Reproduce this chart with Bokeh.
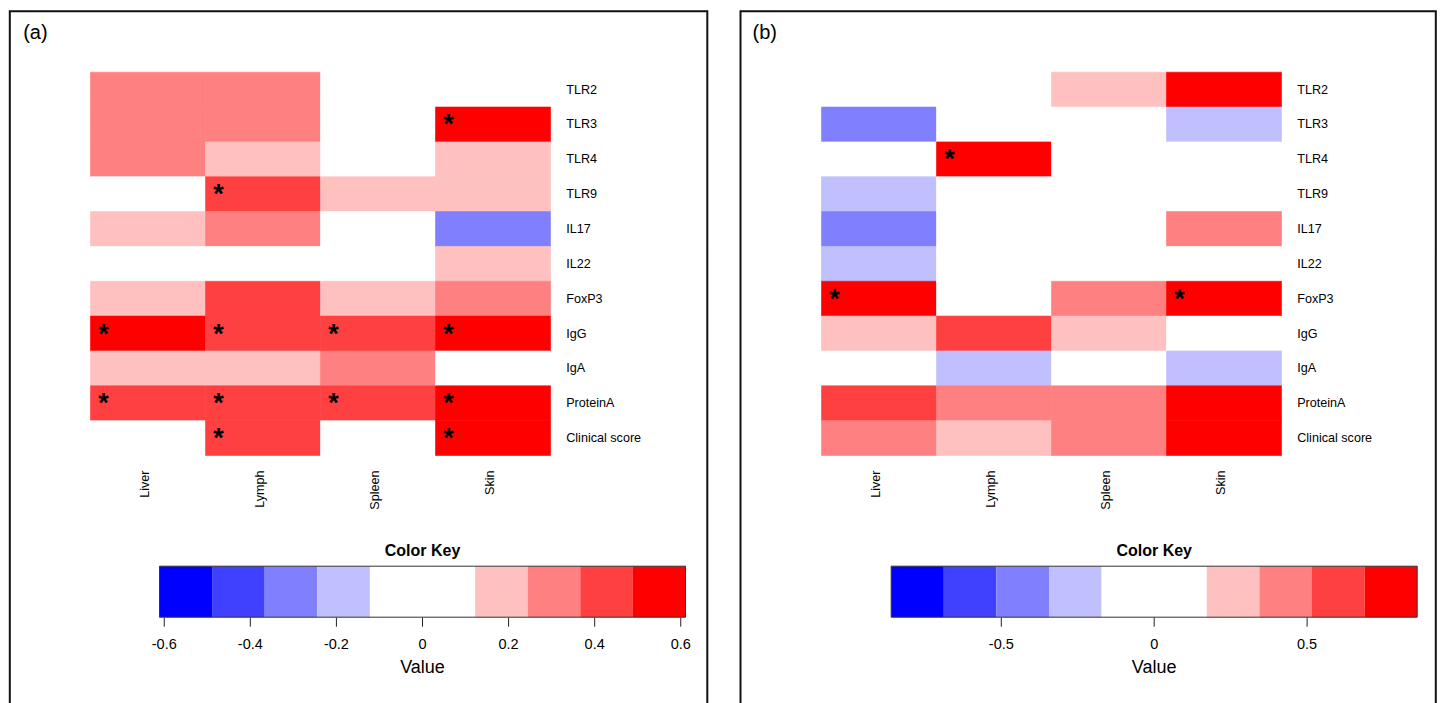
import numpy as np
from bokeh.plotting import figure
from bokeh.models import Range1d, LinearColorMapper, ColumnDataSource
from bokeh.transform import transform
from bokeh.layouts import row
from bokeh.embed import file_html
from bokeh.resources import INLINE
from bokeh.core.properties import value

# ---------------- data ----------------
genes = ["TLR2", "TLR3", "TLR4", "TLR9", "IL17", "IL22", "FoxP3",
         "IgG", "IgA", "ProteinA", "Clinical score"]
tissues = ["Liver", "Lymph", "Spleen", "Skin"]

# panel (a) values per tissue (rows follow `genes`)
a_liver  = [0.29, 0.27, 0.32, 0.06, 0.17, -0.05, 0.19, 0.611, 0.20, 0.42, 0.11]
a_lymph  = [0.31, 0.30, 0.18, 0.43, 0.28, 0.09, 0.41, 0.45, 0.23, 0.46, 0.44]
a_spleen = [0.05, 0.02, -0.03, 0.16, 0.04, 0.07, 0.15, 0.44, 0.33, 0.43, 0.08]
a_skin   = [0.08, 0.56, 0.20, 0.19, -0.31, 0.21, 0.30, 0.58, 0.10, 0.55, 0.59]
# significance marks (1 = star)
a_liver_sig  = [0, 0, 0, 0, 0, 0, 0, 1, 0, 1, 0]
a_lymph_sig  = [0, 0, 0, 1, 0, 0, 0, 1, 0, 1, 1]
a_spleen_sig = [0, 0, 0, 0, 0, 0, 0, 1, 0, 1, 0]
a_skin_sig   = [0, 1, 0, 0, 0, 0, 0, 1, 0, 1, 1]
a_ticks = [-0.6, -0.4, -0.2, 0, 0.2, 0.4, 0.6]
a_tick_labels = ["-0.6", "-0.4", "-0.2", "0", "0.2", "0.4", "0.6"]

# panel (b)
b_liver  = [0.05, -0.41, 0.12, -0.27, -0.44, -0.22, 0.86, 0.25, -0.03, 0.62, 0.45]
b_lymph  = [-0.08, 0.10, 0.82, 0.07, 0.02, -0.05, 0.11, 0.60, -0.26, 0.46, 0.31]
b_spleen = [0.26, -0.06, 0.03, -0.11, 0.09, 0.13, 0.43, 0.29, 0.14, 0.38, 0.42]
b_skin   = [0.79, -0.24, -0.09, 0.04, 0.40, 0.06, 0.76, 0.08, -0.21, 0.74, 0.80]
b_liver_sig  = [0, 0, 0, 0, 0, 0, 1, 0, 0, 0, 0]
b_lymph_sig  = [0, 0, 1, 0, 0, 0, 0, 0, 0, 0, 0]
b_spleen_sig = [0, 0, 0, 0, 0, 0, 0, 0, 0, 0, 0]
b_skin_sig   = [0, 0, 0, 0, 0, 0, 1, 0, 0, 0, 0]
b_ticks = [-0.5, 0, 0.5]
b_tick_labels = ["-0.5", "0", "0.5"]

palette = ["#0000FF", "#4040FF", "#8080FF", "#C0C0FF", "#FFFFFF",
           "#FFFFFF", "#FFC0C0", "#FF8080", "#FF4040", "#FF0000"]

FONT = value("Liberation Sans")
H = 703


def panel(tag, cols, sigs, ticks, tick_labels, W, border, title_x, heat_x, key_x):
    p = figure(width=W, height=H, x_range=Range1d(0, W), y_range=Range1d(H, 0),
               output_backend="svg", toolbar_location=None, min_border=0,
               x_axis_location=None, y_axis_location=None)
    p.grid.visible = False
    p.outline_line_color = None
    p.background_fill_color = "white"
    p.border_fill_color = "white"

    ncol, nrow = len(tissues), len(genes)
    hx0, hx1 = heat_x
    hy0, hy1 = 71.7, 455.0
    cw = (hx1 - hx0) / ncol
    rh = (hy1 - hy0) / nrow
    p.extra_x_ranges["hx"] = Range1d(start=-hx0 / cw, end=(W - hx0) / cw)
    p.extra_y_ranges["hy"] = Range1d(start=(H - hy0) / rh, end=-hy0 / rh)

    vals = np.array(cols)          # ncol x nrow
    vmax = float(np.abs(vals).max())
    kx0, kx1 = key_x
    ks = (kx1 - kx0) / (2 * vmax)
    kc = (kx0 + kx1) / 2
    p.extra_x_ranges["kx"] = Range1d(start=-kc / ks, end=(W - kc) / ks)

    mapper = LinearColorMapper(palette=palette, low=-vmax, high=vmax)

    xs, ys, vs = [], [], []
    sx, sy = [], []
    for i in range(ncol):
        for j in range(nrow):
            xs.append(i + 0.5)
            ys.append(j + 0.5)
            vs.append(cols[i][j])
            if sigs[i][j]:
                sx.append(i)
                sy.append(j + 0.5)
    src = ColumnDataSource(dict(x=xs, y=ys, v=vs))
    p.rect("x", "y", width=1, height=1, source=src, x_range_name="hx", y_range_name="hy",
           fill_color=transform("v", mapper), line_color=transform("v", mapper),
           line_width=0.6)

    # significance stars
    p.text(x=sx, y=sy, text=["*"] * len(sx), x_range_name="hx", y_range_name="hy",
           x_offset=13, y_offset=0, text_align="center", text_baseline="middle",
           text_font=FONT, text_font_size="27px", text_font_style="bold", text_color="black")

    # row labels
    p.text(x=[ncol] * nrow, y=[j + 0.5 for j in range(nrow)], text=genes,
           x_range_name="hx", y_range_name="hy", x_offset=15.7,
           text_align="left", text_baseline="middle", text_font=FONT,
           text_font_size="12.6px", text_color="black")
    # column labels (rotated)
    p.text(x=[i + 0.5 for i in range(ncol)], y=[nrow] * ncol, text=tissues,
           x_range_name="hx", y_range_name="hy", x_offset=-3, y_offset=15,
           angle=np.pi / 2, text_align="right", text_baseline="middle",
           text_font=FONT, text_font_size="12.6px", text_color="black")

    # colour key
    edges = np.linspace(-vmax, vmax, len(palette) + 1)
    kt, kb = 565.7, 616.7
    p.quad(left=edges[:-1], right=edges[1:], top=kt, bottom=kb, fill_color=palette,
           line_color=None, x_range_name="kx")
    p.quad(left=[-vmax], right=[vmax], top=kt, bottom=kb, fill_color=None,
           line_color="#333333", line_width=1, x_range_name="kx")
    p.segment(x0=ticks, y0=[kb + 0.5] * len(ticks), x1=ticks, y1=[kb + 9.5] * len(ticks),
              line_color="#222222", line_width=1, x_range_name="kx")
    p.text(x=ticks, y=[643] * len(ticks), text=tick_labels, x_range_name="kx",
           text_align="center", text_baseline="middle", text_font=FONT,
           text_font_size="14.5px", text_color="black")
    p.text(x=[0], y=[550], text=["Color Key"], x_range_name="kx", text_align="center",
           text_baseline="middle", text_font=FONT, text_font_size="16px",
           text_font_style="bold", text_color="black")
    p.text(x=[0], y=[666], text=["Value"], x_range_name="kx", text_align="center",
           text_baseline="middle", text_font=FONT, text_font_size="18px", text_color="black")

    # panel tag
    p.text(x=[title_x], y=[31], text=[tag], text_align="left", text_baseline="middle",
           text_font=FONT, text_font_size="20px", text_color="black")

    # panel border (left, top, right; bottom runs off the page)
    bx0, bx1, bt = border
    p.line(x=[bx0, bx0, bx1, bx1], y=[H + 20, bt, bt, H + 20], line_color="#111111",
           line_width=2, line_join="miter")
    return p


pa = panel("(a)", [a_liver, a_lymph, a_spleen, a_skin],
           [a_liver_sig, a_lymph_sig, a_spleen_sig, a_skin_sig],
           a_ticks, a_tick_labels, 724, (9.3, 706.8, 10.7), 22.7, (90, 550), (159, 685))
pb = panel("(b)", [b_liver, b_lymph, b_spleen, b_skin],
           [b_liver_sig, b_lymph_sig, b_spleen_sig, b_skin_sig],
           b_ticks, b_tick_labels, 719, (16, 711.3, 10.7), 28, (97, 557), (166.7, 692.7))

layout = row(pa, pb, spacing=0)
open("out.html", "w").write(file_html(layout, INLINE))
